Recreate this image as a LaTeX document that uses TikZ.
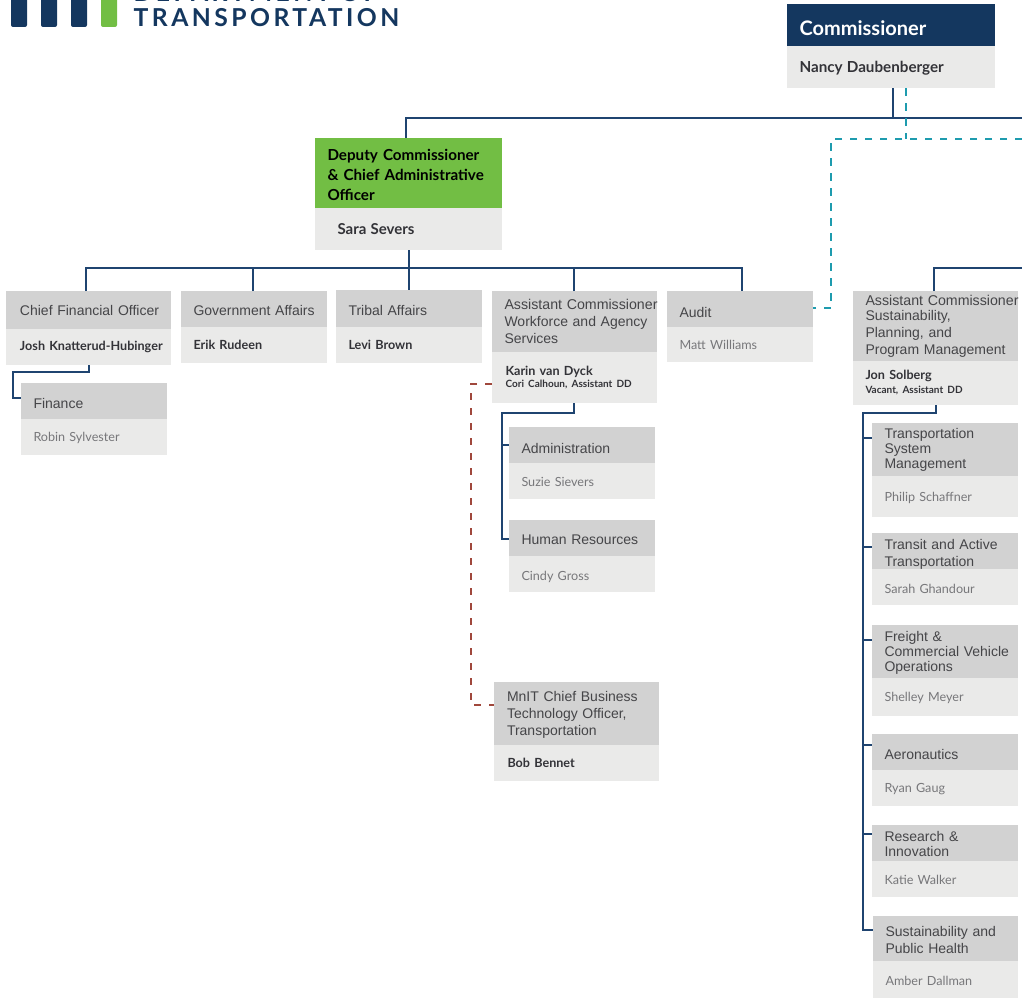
\documentclass[tikz,border=0pt]{standalone}
\usepackage{fontspec}
\setmainfont{Liberation Sans}
\newfontfamily\namefont{Lato}
\newfontfamily\logofont[LetterSpace=14]{Lato}
\definecolor{navy}{HTML}{14375F}
\definecolor{linenavy}{HTML}{1F4470}
\definecolor{headgray}{HTML}{D2D2D2}
\definecolor{bodygray}{HTML}{EAEAE9}
\definecolor{titletext}{HTML}{454548}
\definecolor{nametext}{HTML}{333338}
\definecolor{lighttext}{HTML}{77777A}
\definecolor{mngreen}{HTML}{72BE44}
\definecolor{tealdash}{HTML}{1E9BAE}
\definecolor{reddash}{HTML}{A0483C}
\tikzset{
  unitpart/.style={anchor=north west,inner ysep=0pt,inner xsep=12.5pt,align=left,outer sep=0pt},
  headpart/.style={unitpart,fill=headgray,text=titletext,font=\fontsize{14}{17}\selectfont},
  bodypart/.style={unitpart,fill=bodygray,text=lighttext,font=\namefont\fontsize{12.6}{15}\selectfont},
  tight/.style={font=\fontsize{14}{15}\selectfont},
  commhead/.style={fill=navy,text=white,font=\namefont\bfseries\fontsize{20}{24}\selectfont},
  dephead/.style={fill=mngreen,text=black,font=\namefont\bfseries\fontsize{15.2}{20}\selectfont},
  solidlink/.style={draw=linenavy,line width=1.7pt},
  teallink/.style={draw=tealdash,line width=1.6pt,dash pattern=on 7.5pt off 7.5pt},
  redlink/.style={draw=reddash,line width=1.6pt,dash pattern=on 7pt off 8pt},
  logobar/.style={fill=navy,rounded corners=2pt},
  logotext/.style={anchor=base west,inner sep=0pt,text=navy,font=\logofont\bfseries\fontsize{24.7}{24}\selectfont},
}
\newcommand{\bname}[1]{{\bfseries\color{nametext}#1}}
\newcommand{\subname}[1]{{\bfseries\color{nametext}\fontsize{10}{12}\selectfont #1}}
\newcommand{\dn}[1]{\rule{0pt}{\dimexpr10pt+#1pt\relax}}
\newcommand{\aclead}[1]{\mbox{\fontsize{14.2}{17}\selectfont #1}}
% [head style]{name}{x1}{x2}{y1}{y2}{y3}{title}{body}
\newcommand{\orgunit}[9][]{%
  \pgfmathsetmacro\unitw{#4-#3}\pgfmathsetmacro\unittw{#4-#3-25}%
  \pgfmathsetmacro\unithh{#6-#5}\pgfmathsetmacro\unitbh{#7-#6}%
  \node[headpart,#1,minimum width=\unitw pt,text width=\unittw pt,minimum height=\unithh pt] (#2h) at (#3,#5) {#8};
  \node[bodypart,minimum width=\unitw pt,text width=\unittw pt,minimum height=\unitbh pt] (#2b) at (#3,#6) {#9};
}
\begin{document}
\begin{tikzpicture}[x=1pt,y=-1pt]
\useasboundingbox (0,0) rectangle (1022,998);
\clip (0,0) rectangle (1022,998);
\coordinate (edgeA) at (1022,118);
\coordinate (edgeB) at (1022,139);
\coordinate (edgeC) at (1022,268);
% logo
\fill[logobar] (11,-6) rectangle (27,27);
\fill[logobar] (41,-6) rectangle (57,27);
\fill[logobar] (71,-6) rectangle (87,27);
\fill[logobar,fill=mngreen] (101,-6) rectangle (117,27);
\node[logotext] (logob) at (133.5,27) {TRANSPORTATION};
\node[logotext] (logoa) at (133.5,1.5) {DEPARTMENT OF};
% units
\orgunit[commhead]{comm}{787}{995}{4}{46}{88}{\dn{12}Commissioner}{\dn{3}\fontsize{15.2}{18}\selectfont\bname{Nancy Daubenberger}}
\orgunit[dephead]{dep}{315}{502}{138}{208}{250}{\dn{6}Deputy Commissioner\\\mbox{\& Chief Administrative}\\Officer}{\hspace*{10pt}\fontsize{15}{18}\selectfont\bname{Sara Severs}}
\orgunit{cfo}{6}{171}{291}{329}{365}{\hspace*{1.5pt}\mbox{Chief Financial Officer}}{\hspace*{1.5pt}\fontsize{12.6}{15}\selectfont\bname{\mbox{Josh Knatterud-Hubinger}}}
\orgunit{gov}{181}{327}{291}{327}{363}{\dn{3}\mbox{Government Affairs}}{\bname{Erik Rudeen}}
\orgunit{tri}{336}{482}{290}{327}{363}{\dn{4}Tribal Affairs}{\bname{Levi Brown}}
\orgunit{wfa}{492}{657}{291}{352}{403}{\aclead{Assistant Commissioner}\\\mbox{Workforce and Agency}\\Services}{\hspace*{1pt}\bname{Karin van Dyck}\\[-3pt]\hspace*{1pt}\subname{\mbox{Cori Calhoun, Assistant DD}}}
\orgunit{aud}{667}{813}{291}{327}{362}{\dn{7}Audit}{Matt Williams}
\orgunit{sus}{853}{1018}{291}{361}{405}{\dn{1}\aclead{Assistant Commissioner}\\[-2pt]Sustainability,\\Planning, and\\\mbox{Program Management}}{\bname{Jon Solberg}\\[-1pt]\subname{Vacant, Assistant DD}}
\orgunit{fin}{21}{167}{383}{419}{455}{\dn{5}Finance}{\dn{2}Robin Sylvester}
\orgunit{adm}{509}{655}{427}{463}{499}{\dn{7}Administration}{\dn{1}Suzie Sievers}
\orgunit{hre}{509}{655}{520}{556}{592}{\dn{4}\mbox{Human Resources}}{\dn{5}Cindy Gross}
\orgunit{mni}{494}{659}{682}{745}{781}{\dn{2}\hspace*{0.5pt}MnIT Chief Business\\\hspace*{0.5pt}Technology Officer,\\\hspace*{0.5pt}Transportation}{\hspace*{1pt}\bname{Bob Bennet}}
\orgunit[tight]{tsm}{872}{1018}{423}{476}{517}{Transportation\\System\\Management}{\dn{3}Philip Schaffner}
\orgunit{tat}{872}{1018}{533}{569}{605}{\dn{6}\mbox{Transit and Active}\\Transportation}{\dn{3}Sarah Ghandour}
\orgunit[tight]{frt}{872}{1018}{625}{678}{716}{\dn{3}Freight \&\\\mbox{Commercial Vehicle}\\Operations}{\dn{1}Shelley Meyer}
\orgunit{aer}{872}{1018}{734}{770}{806}{\dn{5}Aeronautics}{\dn{2}Ryan Gaug}
\orgunit[tight]{res}{872}{1018}{825}{861}{897}{\dn{2}Research \&\\Innovation}{\dn{2}Katie Walker}
\orgunit{shh}{873}{1018}{916}{961}{998}{\dn{3}\mbox{Sustainability and}\\Public Health}{\dn{2}Amber Dallman}
% connectors
\draw[solidlink] (commb.south -| 893,0) -- (893,118);
\draw[solidlink] (deph.north -| 406,0) |- (edgeA);
\draw[teallink] (commb.south -| 906,0) -- (906,139);
\draw[teallink] (edgeB) -| (831,308) -- (audh.east |- 0,308);
\draw[solidlink] (depb.south -| 409,0) -- (409,290);
\draw[solidlink] (cfoh.north -| 86,0) |- (742,268) -- (audh.north -| 742,0);
\draw[solidlink] (govh.north -| 253,0) -- (253,268);
\draw[solidlink] (wfah.north -| 574,0) -- (574,268);
\draw[solidlink] (sush.north -| 934,0) |- (edgeC);
\draw[solidlink] (cfob.south -| 89,0) |- (13,372) |- (finh.west |- 0,398);
\draw[solidlink] (wfab.south -| 574,0) |- (502,413) |- (hreh.west |- 0,539);
\draw[solidlink] (502,445) -- (admh.west |- 0,445);
\draw[redlink] (wfab.west |- 0,384) -| (471,705) -- (mnih.west |- 0,705);
\draw[solidlink] (susb.south -| 936,0) |- (863,413) |- (shhh.west |- 0,930);
\draw[solidlink] (863,438) -- (tsmh.west |- 0,438);
\draw[solidlink] (863,547) -- (tath.west |- 0,547);
\draw[solidlink] (863,640) -- (frth.west |- 0,640);
\draw[solidlink] (863,745) -- (aerh.west |- 0,745);
\draw[solidlink] (863,834) -- (resh.west |- 0,834);
\end{tikzpicture}
\end{document}
